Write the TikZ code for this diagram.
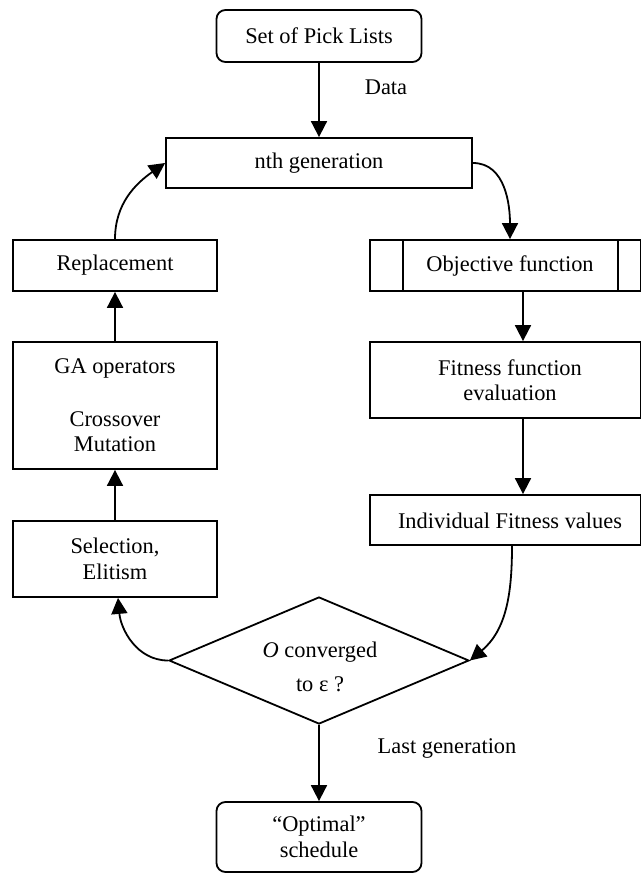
\documentclass[tikz,border=0pt]{standalone}
\usepackage{fontspec}
\setmainfont{Liberation Serif}
\usetikzlibrary{arrows.meta,shapes.geometric,calc}
\begin{document}
\begin{tikzpicture}[x=1pt,y=-1pt,
  every node/.style={font=\fontsize{22.4}{25.5}\selectfont},
  line width=1.8pt,
  box/.style={draw, rectangle, inner sep=0pt, line width=1.8pt, align=center},
  rbox/.style={box, rounded corners=9pt},
  txt/.style={inner sep=0pt, align=center},
  arr/.style={-{Triangle[length=16pt,width=16pt]}, line width=1.8pt},
]
\path[use as bounding box] (0,0) rectangle (642,875);

\node[rbox, minimum width=205pt, minimum height=52pt] (set) at (319,36) {Set of Pick Lists};
\node[txt] (data) at (386,87) {Data};
\node[box, minimum width=306pt, minimum height=50pt] (nth) at (319,163) {nth generation};
\node[box, minimum width=204pt, minimum height=51pt] (repl) at (115,265.5) {Replacement};
\node[box, minimum width=270.5pt, minimum height=51pt] (obj) at (505.25,265.5) {};
\node[txt] (objT) at (510,265.5) {Objective function};
\draw ($(obj.north west)+(34,0)$) -- ($(obj.south west)+(34,0)$);
\draw ($(obj.north east)+(-23.5,0)$) -- ($(obj.south east)+(-23.5,0)$);
\node[box, minimum width=204pt, minimum height=127pt] (ga) at (115,405.5) {GA operators\\[27pt]Crossover\\Mutation};
\node[box, minimum width=270.5pt, minimum height=76pt] (fit) at (505.25,380) {};
\node[txt] (fitT) at (510,380) {Fitness function\\evaluation};
\node[box, minimum width=204pt, minimum height=76pt] (sel) at (115,559) {Selection,\\Elitism};
\node[box, minimum width=270.5pt, minimum height=50pt] (ind) at (505.25,520) {};
\node[txt] (indT) at (510,521) {Individual Fitness values};
\node[draw, diamond, minimum width=300pt, minimum height=127pt, inner sep=0pt, line width=1.8pt] (dia) at (319,660.5) {};
\node[txt] (diaT) at (320,667) {\textit{O} converged\\[9pt]to ε ?};
\node[rbox, minimum width=205pt, minimum height=70pt] (opt) at (319,837) {“Optimal”\\schedule};
\node[txt] (last) at (447,748) {Last generation};

\coordinate (rx) at (523,0);
\coordinate (ix) at (512,0);
\draw[arr] (set) -- (nth);
\draw[arr] (nth.east) to[out=0,in=90] (obj.north -| objT);
\draw[arr] (obj.south -| rx) -- (fit.north -| rx);
\draw[arr] (fit.south -| rx) -- (ind.north -| rx);
\draw[arr] (ind.south -| ix) to[out=-90,in=40] (dia.east);
\draw[arr] (dia.west) to[out=180,in=-85] ($(sel.south)+(3,0)$);
\draw[arr] (sel) -- (ga);
\draw[arr] (ga) -- (repl);
\draw[arr] (repl.north) to[out=90,in=215] (nth.west);
\draw[arr] (dia) -- (opt);
\end{tikzpicture}
\end{document}
